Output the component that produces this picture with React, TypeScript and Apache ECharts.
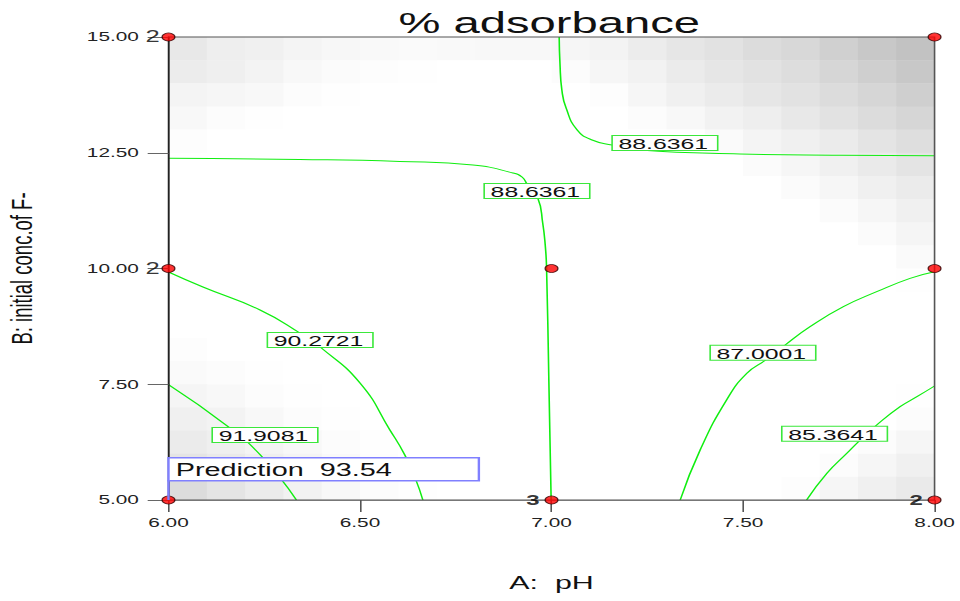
import React, { useEffect, useRef } from "react";
import * as echarts from "echarts";

// ---- data ----
const titleText = "% adsorbance";
const xName = "A:  pH";
const yName = "B: initial conc.of F-";
const xMin = 6, xMax = 8, xStep = 0.5;
const yMin = 5, yMax = 15, yStep = 2.5;

// shading grid: 20 columns (x 6.0..8.0 step 0.1) × 20 rows (y 15..5 step 0.5), darkness 0..255
const cellDX = 0.1;
const cellDY = 0.5;
const shadeRows: number[][] = [
  [23, 17, 15, 11, 8, 6, 5, 6, 7, 7, 9, 12, 19, 25, 29, 35, 39, 47, 55, 61],
  [19, 16, 12, 7, 4, 2, 1, 0, 0, 0, 3, 9, 13, 20, 25, 29, 34, 41, 48, 55],
  [11, 9, 7, 3, 1, 0, 0, 0, 0, 0, 0, 2, 9, 15, 20, 25, 29, 35, 41, 48],
  [7, 3, 1, 0, 0, 0, 0, 0, 0, 0, 0, 0, 3, 7, 13, 17, 23, 29, 35, 41],
  [2, 0, 0, 0, 0, 0, 0, 0, 0, 0, 0, 0, 0, 0, 5, 11, 15, 20, 27, 33],
  [0, 0, 0, 0, 0, 0, 0, 0, 0, 0, 0, 0, 0, 0, 0, 4, 9, 15, 21, 27],
  [0, 0, 0, 0, 0, 0, 0, 0, 0, 0, 0, 0, 0, 0, 0, 0, 4, 9, 15, 20],
  [0, 0, 0, 0, 0, 0, 0, 0, 0, 0, 0, 0, 0, 0, 0, 0, 0, 4, 9, 15],
  [0, 0, 0, 0, 0, 0, 0, 0, 0, 0, 0, 0, 0, 0, 0, 0, 0, 0, 4, 10],
  [0, 0, 0, 0, 0, 0, 0, 0, 0, 0, 0, 0, 0, 0, 0, 0, 0, 0, 0, 5],
  [0, 0, 0, 0, 0, 0, 0, 0, 0, 0, 0, 0, 0, 0, 0, 0, 0, 0, 0, 1],
  [0, 0, 0, 0, 0, 0, 0, 0, 0, 0, 0, 0, 0, 0, 0, 0, 0, 0, 0, 0],
  [0, 0, 0, 0, 0, 0, 0, 0, 0, 0, 0, 0, 0, 0, 0, 0, 0, 0, 0, 0],
  [2, 0, 0, 0, 0, 0, 0, 0, 0, 0, 0, 0, 0, 0, 0, 0, 0, 0, 0, 0],
  [5, 3, 1, 0, 0, 0, 0, 0, 0, 0, 0, 0, 0, 0, 0, 0, 0, 0, 0, 0],
  [10, 7, 3, 1, 0, 0, 0, 0, 0, 0, 0, 0, 0, 0, 0, 0, 0, 0, 0, 1],
  [15, 12, 7, 3, 1, 0, 0, 0, 0, 0, 0, 0, 0, 0, 0, 0, 0, 0, 0, 3],
  [20, 16, 11, 7, 3, 1, 0, 0, 0, 0, 0, 0, 0, 0, 0, 0, 0, 0, 3, 9],
  [27, 22, 16, 11, 6, 2, 0, 0, 0, 0, 0, 0, 0, 0, 0, 0, 0, 3, 9, 15],
  [35, 27, 20, 13, 7, 3, 1, 0, 0, 0, 0, 0, 0, 0, 0, 0, 2, 9, 15, 21],
];

// contour lines [pH, conc]
const contour91_9081 = [[6.0, 7.49], [6.153, 6.6], [6.24, 5.97], [6.334, 5.0]];
const contour90_2721 = [
  [6.0, 9.925], [6.09, 9.6], [6.239, 9.104], [6.343, 8.607], [6.396, 8.305],
  [6.5, 7.527], [6.578, 6.512], [6.617, 5.972], [6.646, 5.432], [6.664, 5.0],
];
const contour88_6361a = [
  [6.0, 12.38], [6.343, 12.354], [6.604, 12.311], [6.795, 12.235], [6.899, 12.063],
  [6.923, 11.976], [6.936, 11.825], [6.964, 11.523], [6.977, 10.983], [6.984, 10.464],
  [6.987, 10.032], [6.993, 7.592], [6.999, 5.0],
];
const contour88_6361b = [
  [7.02, 15.0], [7.022, 14.438], [7.027, 13.855], [7.038, 13.467], [7.067, 12.991],
  [7.106, 12.775], [7.158, 12.667], [7.231, 12.559], [7.492, 12.473], [7.753, 12.445], [8.0, 12.436],
];
const contour87_0001 = [
  [7.336, 5.0], [7.388, 6.08], [7.457, 7.16], [7.51, 7.736], [7.562, 8.039],
  [7.61, 8.348], [7.675, 8.743], [7.762, 9.175], [7.849, 9.499], [7.936, 9.788], [8.0, 9.931],
];
const contour85_3641 = [
  [7.666, 5.0], [7.719, 5.577], [7.771, 6.009], [7.806, 6.296], [7.849, 6.62],
  [7.91, 7.015], [7.954, 7.231], [8.0, 7.462],
];
const contourLines = [contour91_9081, contour90_2721, contour88_6361a, contour88_6361b, contour87_0001, contour85_3641];

const contourLabelText = ["91.9081", "90.2721", "88.6361", "88.6361", "87.0001", "85.3641"];
const contourLabelPos = [[6.252, 6.404], [6.396, 8.456], [6.962, 11.674], [7.296, 12.711], [7.552, 8.18], [7.739, 6.432]];

// design points and replicate counts
const designPoints = [[6, 15], [8, 15], [6, 10], [7, 10], [8, 10], [6, 5], [7, 5], [8, 5]];
const replicates = [2, 1, 2, 1, 1, 1, 3, 2];

// prediction flag
const predictionPoint = [6, 5];
const predictionValue = 93.54;

// ---- layout ----
const SX = 1.6; // horizontal stretch of the reference
const W = 600;
const H = 601;
const FONT = "'Liberation Sans', Arial, sans-serif";
const GREEN = "#11ee11";

function buildOption() {
  const cellData: number[][] = [];
  shadeRows.forEach((row, j) =>
    row.forEach((s, i) => cellData.push([xMin + i * cellDX, yMax - j * cellDY, s]))
  );

  const series: any[] = [];
  series.push({
    type: "custom",
    z: 1,
    silent: true,
    encode: { x: 0, y: 1 },
    data: cellData,
    renderItem: (params: any, api: any) => {
      const x0 = api.value(0);
      const y0 = api.value(1);
      const s = api.value(2);
      const cs = params.coordSys;
      const p0 = api.coord([x0, y0]);
      const p1 = api.coord([x0 + cellDX, y0 - cellDY]);
      const right = Math.min(p1[0] + 0.5, cs.x + cs.width);
      const bottom = Math.min(p1[1] + 0.5, cs.y + cs.height);
      const g = Math.round(255 - s);
      return {
        type: "rect",
        shape: { x: p0[0], y: p0[1], width: right - p0[0], height: bottom - p0[1] },
        style: { fill: `rgb(${g},${g},${g})` },
      };
    },
  });

  contourLines.forEach((pts) =>
    series.push({
      type: "line",
      z: 2,
      silent: true,
      data: pts,
      showSymbol: false,
      smooth: 0.5,
      lineStyle: { color: GREEN, width: 1 },
    })
  );

  series.push({
    type: "custom",
    z: 5,
    silent: true,
    encode: { x: 0, y: 1 },
    data: contourLabelPos,
    renderItem: (params: any, api: any) => {
      const p = api.coord([api.value(0), api.value(1)]);
      return {
        type: "group",
        children: [
          {
            type: "rect",
            shape: { x: p[0] - 33, y: p[1] - 7.5, width: 66, height: 15 },
            style: { fill: "#fff", stroke: "#3be83b", lineWidth: 1 },
          },
          {
            type: "text",
            x: p[0] - 1,
            y: p[1] + 0.5,
            style: {
              text: contourLabelText[params.dataIndex],
              fontSize: 15.5,
              fontFamily: FONT,
              fill: "#111",
              align: "center",
              verticalAlign: "middle",
            },
          },
        ],
      };
    },
  });

  series.push({
    type: "scatter",
    z: 6,
    silent: true,
    symbolSize: 8,
    itemStyle: { color: "#ff0000", borderColor: "#330000", borderWidth: 0.8 },
    label: {
      position: "left",
      distance: 2,
      fontSize: 15,
      fontWeight: "bold",
      fontFamily: FONT,
      color: "#000",
    },
    data: designPoints.map((p, k) => ({
      value: p,
      label:
        p[0] === xMin
          ? { show: replicates[k] > 1, formatter: String(replicates[k]), fontWeight: "normal", fontSize: 16, distance: 1 }
          : { show: replicates[k] > 1, formatter: String(replicates[k]), distance: 3 },
    })),
  });

  series.push({
    type: "custom",
    z: 7,
    silent: true,
    encode: { x: 0, y: 1 },
    data: [predictionPoint],
    renderItem: (params: any, api: any) => {
      const p = api.coord([api.value(0), api.value(1)]);
      return {
        type: "group",
        children: [
          {
            type: "line",
            shape: { x1: p[0], y1: p[1], x2: p[0], y2: p[1] - 20 },
            style: { stroke: "#8080ff", lineWidth: 1.5 },
          },
          {
            type: "rect",
            shape: { x: p[0], y: p[1] - 42.3, width: 194, height: 23 },
            style: { fill: "#fff", stroke: "#8080ff", lineWidth: 1.5 },
          },
          {
            type: "text",
            x: p[0] + 4.5,
            y: p[1] - 30.5,
            style: {
              text: `Prediction  ${predictionValue.toFixed(2)}`,
              fontSize: 18,
              fontFamily: FONT,
              fill: "#111",
              align: "left",
              verticalAlign: "middle",
            },
          },
        ],
      };
    },
  });

  return {
    animation: false,
    backgroundColor: "#ffffff",
    textStyle: { fontFamily: FONT },
    title: {
      text: titleText,
      left: 244,
      top: 3,
      textStyle: { fontSize: 29.5, fontWeight: "normal", color: "#111", fontFamily: FONT },
    },
    grid: {
      left: 105.3,
      right: 15.9,
      top: 37,
      bottom: 101,
      show: true,
      z: 4,
      outerBoundsMode: "none",
      containLabel: false,
      backgroundColor: "transparent",
      borderColor: "#555",
      borderWidth: 1,
    },
    xAxis: {
      type: "value",
      min: xMin,
      max: xMax,
      interval: xStep,
      z: 4,
      name: xName,
      nameLocation: "middle",
      nameGap: 73,
      nameTextStyle: { fontSize: 19, color: "#111", fontFamily: FONT },
      axisLine: { show: true, lineStyle: { color: "#777", width: 1 } },
      axisTick: { show: true, length: 12, lineStyle: { color: "#555" } },
      axisLabel: {
        formatter: (v: number) => v.toFixed(2),
        fontSize: 13,
        color: "#222",
        margin: 16,
        fontFamily: FONT,
        showMinLabel: true,
        showMaxLabel: true,
      },
      splitLine: { show: false },
    },
    yAxis: {
      type: "value",
      min: yMin,
      max: yMax,
      interval: yStep,
      z: 4,
      name: yName,
      nameLocation: "middle",
      nameGap: 82,
      nameTextStyle: { fontSize: 18.5, color: "#111", fontFamily: FONT },
      axisLine: { show: true, lineStyle: { color: "#222", width: 1 } },
      axisTick: { show: true, length: 13, lineStyle: { color: "#666" } },
      axisLabel: {
        formatter: (v: number) => v.toFixed(2),
        fontSize: 13,
        color: "#222",
        margin: 18.5,
        fontFamily: FONT,
        showMinLabel: true,
        showMaxLabel: true,
      },
      splitLine: { show: false },
    },
    series,
  };
}

export default function App() {
  const ref = useRef<HTMLDivElement>(null);
  useEffect(() => {
    if (!ref.current) return;
    const chart = echarts.init(ref.current, null, { renderer: "svg" });
    chart.setOption(buildOption() as any);
    return () => chart.dispose();
  }, []);
  return (
    <div
      style={{
        position: "absolute",
        left: 0,
        top: 0,
        width: W,
        height: H,
        transform: `scaleX(${SX})`,
        transformOrigin: "0 0",
        background: "#fff",
      }}
    >
      <div ref={ref} style={{ width: W, height: H }} />
    </div>
  );
}
